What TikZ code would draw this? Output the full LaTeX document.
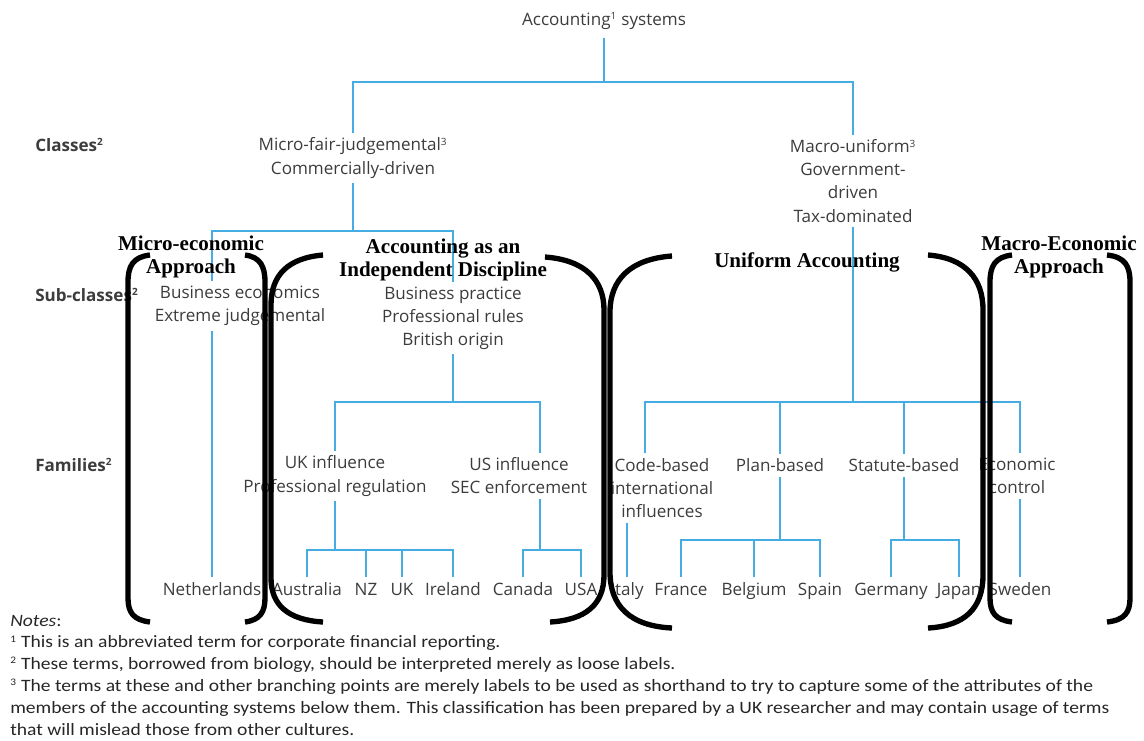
\documentclass[tikz,border=0pt]{standalone}
\usepackage{fontspec}
\setmainfont{Open Sans}
\newfontfamily\brfont{Liberation Serif}
\newfontfamily\notefont[FakeStretch=1.13]{Carlito}
\definecolor{treeblue}{HTML}{45ACE4}
\definecolor{textgray}{HTML}{3C3C3C}
\newcommand\fnmark[1]{\textsuperscript{\fontsize{7.5}{7.5}\selectfont#1}}

\begin{document}
\begin{tikzpicture}[x=0.75pt,y=-0.75pt,
    link/.style={draw=treeblue,line width=1.7pt},
    bracket/.style={draw=black,line width=4pt},
    lbl/.style={font=\fontsize{12.8}{17.3}\selectfont,align=center,inner sep=3.5pt},
    leaf/.style={font=\fontsize{12.8}{17.3}\selectfont,anchor=base,text height=10pt,text depth=3pt,inner sep=3.5pt},
    rowlbl/.style={font=\fontsize{12.8}{15}\selectfont\bfseries,anchor=west,inner sep=0pt},
    brlbl/.style={text=black,font=\brfont\bfseries\fontsize{15.8}{17.3}\selectfont,align=center,inner sep=0pt}
    %every label/.style={font=\small}
]
\tikzstyle{every node}=[text=textgray]
\useasboundingbox (0,0) rectangle (1144,740);

% levels
\node[rowlbl] (cls) at (35,145) {Classes\fnmark{2}};
\node[rowlbl] (scl) at (35,295) {Sub-classes\fnmark{2}};
\node[rowlbl] (fam) at (35,465) {Families\fnmark{2}};

% tree
\node[lbl,inner sep=6pt] (acc) at (604,21) {Accounting\fnmark{1} systems};
\node[lbl] (mfj) at (353,158) {Micro-fair-judgemental\fnmark{3}\\Commercially-driven};
\node[lbl] (mu) at (853,181) {Macro-uniform\fnmark{3}\\Government-\\driven\\Tax-dominated};
\node[lbl] (be) at (240,306) {Business economics\\Extreme judgemental};
\node[lbl] (bp) at (453,318) {Business practice\\Professional rules\\British origin};
\node[lbl] (ukf) at (335,476) {UK influence\\Professional regulation};
\node[lbl] (usf) at (519,476) {US influence\\SEC enforcement};
\node[lbl] (cb) at (662,488) {Code-based\\international\\influences};
\node[lbl] (pb) at (780,465) {Plan-based};
\node[lbl] (sb) at (904,465) {Statute-based};
\node[lbl] (ec) at (1017,476) {Economic\\control};

% countries
\node[leaf] (nl) at (212,595) {Netherlands};
\node[leaf] (aus) at (307,595) {Australia};
\node[leaf] (nz) at (366,595) {NZ};
\node[leaf] (ukl) at (402,595) {UK};
\node[leaf] (ire) at (453,595) {Ireland};
\node[leaf] (can) at (523,595) {Canada};
\node[leaf] (usa) at (581,595) {USA};
\node[leaf] (ita) at (627,595) {Italy};
\node[leaf] (fra) at (681,595) {France};
\node[leaf] (bel) at (754,595) {Belgium};
\node[leaf] (spa) at (820,595) {Spain};
\node[leaf] (ger) at (891,595) {Germany};
\node[leaf] (jap) at (959,595) {Japan};
\node[leaf] (swe) at (1020,595) {Sweden};

\coordinate (j0) at (604,82);
\coordinate (j1) at (353,231);
\coordinate (j3) at (540,402);
\coordinate (j4) at (335,550);
\coordinate (j5) at (645,402);
\coordinate (j6) at (853,402);
\coordinate (j7) at (780,540);
\coordinate (j9) at (540,550);

\draw[link] (acc) -- (j0);
\draw[link] (mfj) |- (j0) -| (mu);
\draw[link] (mfj) -- (j1);
\draw[link] (be.north -| nl) |- (j1) -| (bp);
\draw[link] (be.south -| nl) -- (nl);

\draw[link] (bp) -- (bp |- j3);
\draw[link] (ukf) |- (j3) -- (j3 |- usf.north);
\draw[link] (ukf) -- (j4);
\draw[link] (aus) |- (j4) -| (ire);
\draw[link] (nz) -- (nz |- j4);
\draw[link] (ukl) -- (ukl |- j4);
\draw[link] (usf.south -| j9) -- (j9);
\draw[link] (can) |- (j9) -| (usa);

\draw[link] (mu) -- (j6);
\draw[link] (j5 |- cb.north) -- (j5) -- (swe |- j5) -- (swe |- ec.north);
\draw[link] (pb) -- (pb |- j5);
\draw[link] (sb) -- (sb |- j5);
\draw[link] (cb.south -| ita) -- (ita);
\draw[link] (pb) -- (j7);
\draw[link] (fra) |- (j7) -| (spa);
\draw[link] (bel) -- (bel |- j7);
\draw[link] (sb) -- (sb |- j7);
\draw[link] (ger) |- (sb |- j7) -| (jap);
\draw[link] (ec.south -| swe) -- (swe);

% brackets
\draw[bracket] (150,255) .. controls (133,257) and (128,266) .. (128,282) -- (128,598) .. controls (128,612) and (133,620) .. (150,622);
\draw[bracket] (245,255) .. controls (260,257) and (265,266) .. (265,282) -- (265,598) .. controls (265,612) and (260,620) .. (245,622);
\draw[bracket] (323,255) .. controls (288,258) and (271,275) .. (271,305) -- (271,578) .. controls (271,605) and (288,620) .. (323,622);
\draw[bracket] (545,257) .. controls (585,260) and (604,280) .. (604,310) -- (604,575) .. controls (604,605) and (585,620) .. (550,622);
\draw[bracket] (672,256) .. controls (630,259) and (610,280) .. (610,312) -- (610,572) .. controls (610,606) and (630,626) .. (672,628);
\draw[bracket] (928,255) .. controls (965,258) and (983,278) .. (983,310) -- (983,575) .. controls (983,608) and (965,626) .. (928,628);
\draw[bracket] (1012,255) .. controls (995,257) and (990,266) .. (990,282) -- (990,598) .. controls (990,612) and (995,620) .. (1012,622);
\draw[bracket] (1107,255) .. controls (1125,257) and (1130,266) .. (1130,282) -- (1130,598) .. controls (1130,612) and (1125,620) .. (1107,622);

\node[brlbl] (mea) at (191,257) {Micro-economic\\Approach};
\node[brlbl] (aid) at (443,260) {Accounting as an\\Independent Discipline};
\node[brlbl] (ua) at (807,262) {Uniform Accounting};
\node[brlbl] (mca) at (1059,257) {Macro-Economic\\Approach};

% notes
\node[anchor=base west,align=left,inner sep=0pt,text=black!85,
      font=\notefont\fontsize{13}{16.35}\selectfont] (nts) at (10,735)
  {\textit{Notes}:\\
   \fnmark{1} This is an abbreviated term for corporate financial reporting.\\
   \fnmark{2} These terms, borrowed from biology, should be interpreted merely as loose labels.\\
   \fnmark{3} The terms at these and other branching points are merely labels to be used as shorthand to try to capture some of the attributes of the\\
   members of the accounting systems below them. This classification has been prepared by a UK researcher and may contain usage of terms\\
   that will mislead those from other cultures.};
\end{tikzpicture}
\end{document}
